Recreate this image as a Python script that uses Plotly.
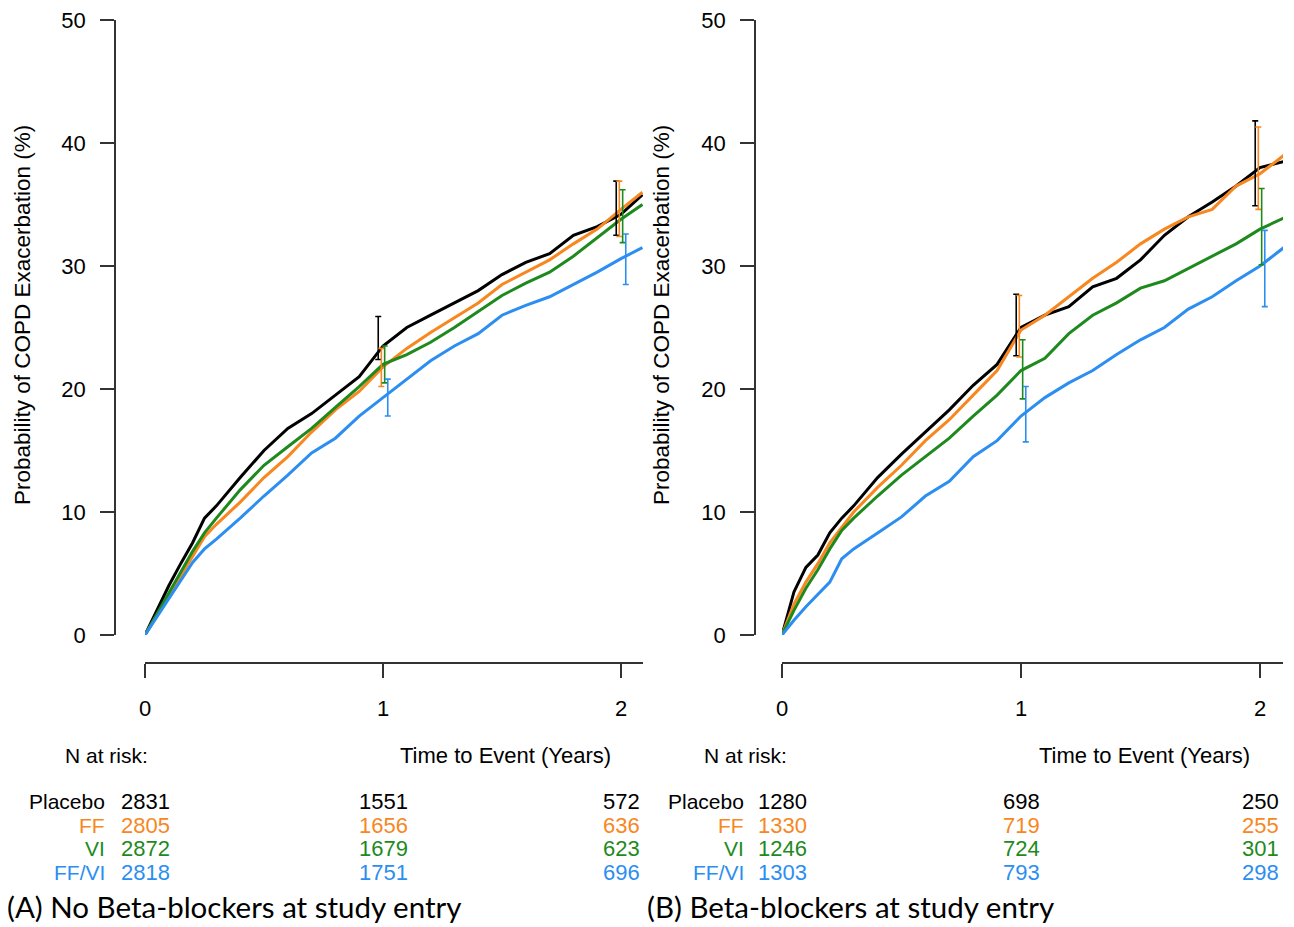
import plotly.graph_objects as go

# ---------------- data ----------------
groups = ["Placebo", "FF", "VI", "FF/VI"]
colors = ["#000000", "#F7871E", "#1E8A1E", "#2B8EF0"]

time_a = [0, 0.05, 0.1, 0.15, 0.2, 0.25, 0.3, 0.4, 0.5, 0.6, 0.7, 0.8, 0.9,
          1.0, 1.1, 1.2, 1.3, 1.4, 1.5, 1.6, 1.7, 1.8, 1.9, 2.0, 2.09]
placebo_a = [0, 2.0, 4.0, 5.8, 7.5, 9.5, 10.5, 12.8, 15.0, 16.8, 18.0, 19.5, 21.0,
             23.5, 25.0, 26.0, 27.0, 28.0, 29.3, 30.3, 31.0, 32.5, 33.2, 34.2, 35.8]
ff_a = [0, 1.6, 3.2, 4.8, 6.5, 8.0, 9.0, 10.8, 12.8, 14.5, 16.5, 18.3, 19.8,
        21.8, 23.3, 24.6, 25.8, 27.0, 28.5, 29.5, 30.5, 31.8, 33.0, 34.6, 36.0]
vi_a = [0, 1.7, 3.4, 5.0, 6.8, 8.3, 9.5, 11.8, 13.8, 15.3, 16.8, 18.5, 20.2,
        22.0, 22.8, 23.8, 25.0, 26.3, 27.6, 28.6, 29.5, 30.8, 32.3, 33.8, 35.0]
ffvi_a = [0, 1.5, 3.0, 4.5, 5.9, 7.0, 7.8, 9.5, 11.3, 13.0, 14.8, 16.0, 17.8,
          19.3, 20.8, 22.3, 23.5, 24.5, 26.0, 26.8, 27.5, 28.5, 29.5, 30.6, 31.5]

time_b = [0, 0.05, 0.1, 0.15, 0.2, 0.25, 0.3, 0.4, 0.5, 0.6, 0.7, 0.8, 0.9,
          1.0, 1.1, 1.2, 1.3, 1.4, 1.5, 1.6, 1.7, 1.8, 1.9, 2.0, 2.1]
placebo_b = [0, 3.5, 5.5, 6.5, 8.3, 9.5, 10.5, 12.8, 14.7, 16.5, 18.3, 20.3, 22.0,
             25.0, 26.0, 26.7, 28.3, 29.0, 30.5, 32.5, 34.0, 35.2, 36.5, 38.0, 38.5]
ff_b = [0, 2.5, 4.3, 5.8, 7.5, 8.8, 10.0, 12.0, 13.8, 15.8, 17.5, 19.5, 21.5,
        24.8, 26.0, 27.5, 29.0, 30.3, 31.8, 33.0, 34.0, 34.6, 36.5, 37.5, 39.0]
vi_b = [0, 2.0, 3.8, 5.3, 7.0, 8.5, 9.5, 11.3, 13.0, 14.5, 16.0, 17.8, 19.5,
        21.5, 22.5, 24.5, 26.0, 27.0, 28.2, 28.8, 29.8, 30.8, 31.8, 33.0, 33.9]
ffvi_b = [0, 1.2, 2.3, 3.3, 4.3, 6.2, 7.0, 8.3, 9.6, 11.3, 12.5, 14.5, 15.8,
          17.8, 19.3, 20.5, 21.5, 22.8, 24.0, 25.0, 26.5, 27.5, 28.8, 30.0, 31.5]

ci_years = [1, 2]
# confidence intervals [low, high] at year 1 and year 2, per group
ci_low_a = {"Placebo": [22.4, 32.5], "FF": [20.2, 32.4], "VI": [20.5, 31.9], "FF/VI": [17.8, 28.5]}
ci_high_a = {"Placebo": [25.9, 36.9], "FF": [23.3, 36.9], "VI": [23.5, 36.2], "FF/VI": [20.8, 32.6]}
ci_low_b = {"Placebo": [22.7, 34.9], "FF": [22.6, 34.6], "VI": [19.2, 30.1], "FF/VI": [15.7, 26.7]}
ci_high_b = {"Placebo": [27.7, 41.8], "FF": [27.6, 41.3], "VI": [24.0, 36.3], "FF/VI": [20.2, 32.9]}

risk_years = [0, 1, 2]
risk_a = {"Placebo": [2831, 1551, 572], "FF": [2805, 1656, 636],
          "VI": [2872, 1679, 623], "FF/VI": [2818, 1751, 696]}
risk_b = {"Placebo": [1280, 698, 250], "FF": [1330, 719, 255],
          "VI": [1246, 724, 301], "FF/VI": [1303, 793, 298]}

y_ticks = [0, 10, 20, 30, 40, 50]
x_ticks = [0, 1, 2]
y_title = "Probability of COPD Exacerbation (%)"
x_title = "Time to Event (Years)"
captions = ["(A) No Beta-blockers at study entry", "(B) Beta-blockers at study entry"]

# ---------------- layout helpers ----------------
OFF = 8  # page body margin
W, H = 1294 - OFF, 927 - OFF
def px(x):
    return (x - OFF) / W
def py(y):
    return 1 - (y - OFF) / H

FONT = "Liberation Sans, Arial, sans-serif"
AX = "#333333"

fig = go.Figure()

panels = [
    dict(xa="x", ya="y", time=time_a, vals=[placebo_a, ff_a, vi_a, ffvi_a],
         lo=ci_low_a, hi=ci_high_a, risk=risk_a),
    dict(xa="x2", ya="y2", time=time_b, vals=[placebo_b, ff_b, vi_b, ffvi_b],
         lo=ci_low_b, hi=ci_high_b, risk=risk_b),
]

offsets = [-0.02, -0.007, 0.007, 0.02]
for p in panels:
    for g, c, v in zip(groups, colors, p["vals"]):
        fig.add_trace(go.Scatter(x=p["time"], y=v, mode="lines",
                                 line=dict(color=c, width=3),
                                 xaxis=p["xa"], yaxis=p["ya"], hoverinfo="skip"))
    for g, c, off in zip(groups, colors, offsets):
        lo = p["lo"][g]
        hi = p["hi"][g]
        mid = [(a + b) / 2 for a, b in zip(lo, hi)]
        fig.add_trace(go.Scatter(
            x=[t + off for t in ci_years], y=mid, mode="markers",
            marker=dict(size=1, color="rgba(0,0,0,0)"),
            error_y=dict(type="data", symmetric=False,
                         array=[h - m for h, m in zip(hi, mid)],
                         arrayminus=[m - l for m, l in zip(mid, lo)],
                         color=c, thickness=1.6, width=3),
            xaxis=p["xa"], yaxis=p["ya"], hoverinfo="skip"))

axis_common = dict(showline=True, linecolor=AX, linewidth=1.5, ticks="outside",
                   ticklen=14, tickwidth=1.5, tickcolor=AX, showgrid=False,
                   zeroline=False, tickfont=dict(family=FONT, size=22, color="#000"),
                   fixedrange=True, automargin=False, ticklabeloverflow="allow")

fig.update_layout(
    width=W, height=H, margin=dict(l=0, r=0, t=0, b=0, pad=0, autoexpand=False),
    paper_bgcolor="white", plot_bgcolor="white", showlegend=False,
    xaxis=dict(domain=[px(145), px(643)], range=[0, 498 / 238], anchor="free",
               position=py(663), tickvals=x_ticks, ticklabelstandoff=12, **axis_common),
    yaxis=dict(domain=[py(635), py(20)], range=[0, 50], anchor="free",
               position=px(115), tickvals=y_ticks, ticklabelstandoff=10, **axis_common),
    xaxis2=dict(domain=[px(782), px(1283)], range=[0, 501 / 239], anchor="free",
                position=py(663), tickvals=x_ticks, ticklabelstandoff=12, **axis_common),
    yaxis2=dict(domain=[py(635), py(20)], range=[0, 50], anchor="free",
                position=px(755), tickvals=y_ticks, ticklabelstandoff=10, **axis_common),
)

ann = []
def text(x, y, s, color="#000", size=22, xanchor="left", xref="paper", family=FONT, angle=0):
    ann.append(dict(x=x, y=y, xref=xref, yref="paper", text=s, showarrow=False,
                    xanchor=xanchor, yanchor="middle", textangle=angle,
                    font=dict(family=family, size=size, color=color)))

# y titles
text(px(22), py(315), y_title, xanchor="center", angle=-90, size=22.5)
text(px(661), py(315), y_title, xanchor="center", angle=-90, size=22.5)

row_y = [801, 825, 848, 872]
for p, lab_right, nar_x, tte_x, cap_x, cap in [
        (panels[0], 107, 63, 398, 5, captions[0]),
        (panels[1], 746, 702, 1037, 645, captions[1])]:
    text(px(nar_x), py(755), "N at risk:", size=21)
    text(px(tte_x), py(755), x_title)
    for g, c, ry in zip(groups, colors, row_y):
        text(px(lab_right), py(ry), g, color=c, xanchor="right", size=21)
        for t, n in zip(risk_years, p["risk"][g]):
            ann.append(dict(x=t, y=py(ry), xref=p["xa"], yref="paper", text=str(n),
                            showarrow=False, xanchor="center", yanchor="middle",
                            font=dict(family=FONT, size=22, color=c)))
    text(px(cap_x), py(906), cap, family="Lato, Carlito, sans-serif", size=29.5)

fig.update_layout(annotations=ann)
fig.write_html("out.html")
